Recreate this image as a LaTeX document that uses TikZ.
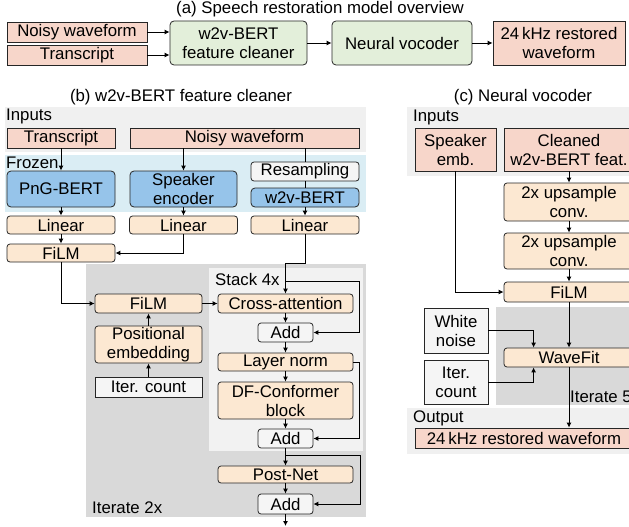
\documentclass[tikz,border=0pt]{standalone}
\usepackage{fontspec}
\setmainfont{Liberation Sans}
\usetikzlibrary{arrows.meta, positioning, calc}

\definecolor{salmon}{RGB}{247,214,202}
\definecolor{leaf}{RGB}{227,239,218}
\definecolor{cream}{RGB}{252,232,210}
\definecolor{frozenblue}{RGB}{150,196,234}
\definecolor{frozenband}{RGB}{218,237,244}
\definecolor{inputband}{RGB}{240,240,240}
\definecolor{iterband}{RGB}{217,217,217}
\definecolor{stackband}{RGB}{242,242,242}
\definecolor{addgray}{RGB}{245,245,245}

\tikzset{
    box/.style={draw=black!85, line width=0.8pt, inner sep=0pt, align=center,
        font=\fontsize{16.8}{19}\selectfont},
    dims/.style 2 args={minimum width=#1pt, minimum height=#2pt},
    inbox/.style={box, fill=salmon},
    gbox/.style={box, fill=leaf, rounded corners=4pt},
    bbox/.style={box, fill=frozenblue, rounded corners=4pt},
    obox/.style={box, fill=cream, rounded corners=3pt},
    wbox/.style={box, fill=addgray, rounded corners=3pt},
    sbox/.style={box, fill=addgray},
    tag/.style={inner sep=1pt, font=\fontsize{16.8}{19}\selectfont},
    ln/.style={line width=0.9pt},
    arr/.style={ln, -{Latex[length=5pt,width=5pt]}},
}

\begin{document}
\begin{tikzpicture}[x=1pt, y=-1pt]

    \useasboundingbox (0,0) rectangle (629,527);

    % (a)
    \node[tag] (ttlA) at (320,9) {(a) Speech restoration model overview};
    \node[inbox, dims={140}{20}] (aNoisy) at (77,32) {Noisy waveform};
    \node[inbox, dims={140}{20}] (aTrans) at (77,55) {Transcript};
    \node[gbox, dims={137}{44}] (aClean) at (238.5,43) {w2v-BERT\\feature cleaner};
    \node[gbox, dims={140}{44}] (aVoc) at (402,43) {Neural vocoder};
    \node[inbox, dims={132}{44}] (aOut) at (559,43) {24\,kHz restored\\waveform};

    \draw[arr] (aNoisy.east) -- (aNoisy.east -| aClean.west);
    \draw[arr] (aTrans.east) -- (aTrans.east -| aClean.west);
    \draw[arr] (aClean) -- (aVoc);
    \draw[arr] (aVoc) -- (aOut);

    % (b)
    \fill[inputband] (5,107) rectangle (366,152);
    \fill[frozenband] (5,155) rectangle (366,212);
    \fill[iterband] (86,264) rectangle (366,517);
    \fill[stackband] (209,268) rectangle (363,451);

    \node[tag] (ttlB) at (181,97) {(b) w2v-BERT feature cleaner};
    \node[tag, anchor=west] (inB) at (5,116) {Inputs};
    \node[tag, anchor=west] (frzB) at (5,163) {Frozen};
    \node[tag, anchor=west] (stkB) at (214,279) {Stack 4x};
    \node[tag, anchor=west] (itB) at (91,508) {Iterate 2x};

    \node[inbox, dims={108}{20}] (bTrans) at (61,138) {Transcript};
    \node[inbox, dims={229}{20}] (bNoisy) at (244.5,138) {Noisy waveform};
    \node[bbox, dims={108}{36}] (bPng) at (61,189) {PnG-BERT};
    \node[bbox, dims={107}{36}] (bSpk) at (183.5,189) {Speaker\\encoder};
    \node[wbox, dims={108}{19}] (bResamp) at (305,171.5) {Resampling};
    \node[bbox, dims={108}{19}] (bW2v) at (305,197.5) {w2v-BERT};
    \foreach \n/\x in {1/61, 2/183.5, 3/305}
        \node[obox, dims={108}{18}] (bLin\n) at (\x,225) {Linear};
    \node[obox, dims={108}{18}] (bFilmA) at (61,253) {FiLM};

    \node[obox, dims={107}{19}] (bFilmB) at (148.5,303.5) {FiLM};
    \node[obox, dims={107}{37}] (bPos) at (148.5,344.5) {Positional\\embedding};
    \node[sbox, dims={107}{20}] (bIter) at (148.5,387) {Iter. count};

    \node[obox, dims={135}{19}] (bCross) at (285.5,303.5) {Cross-attention};
    \node[wbox, dims={55}{19}] (bAddA) at (285.5,332.5) {Add};
    \node[obox, dims={135}{18}] (bNorm) at (285.5,362) {Layer norm};
    \node[obox, dims={135}{37}] (bConf) at (285.5,400.5) {DF-Conformer\\block};
    \node[wbox, dims={55}{19}] (bAddB) at (285.5,438.5) {Add};
    \node[obox, dims={135}{17}] (bPost) at (285.5,474.5) {Post-Net};
    \node[wbox, dims={55}{20}] (bAddC) at (285.5,504) {Add};

    \coordinate (bTurn) at (285.5,263);
    \coordinate (rA) at (285.5,281);
    \coordinate (rC) at (285.5,455);
    \coordinate (bEnd) at (285.5,526);

    \draw[arr] (bTrans) -- (bPng);
    \draw[arr] (bSpk.north |- bNoisy.south) -- (bSpk.north);
    \draw[ln] (bResamp.north |- bNoisy.south) -- (bResamp.north);
    \draw[ln] (bResamp) -- (bW2v);
    \foreach \a/\b in {bPng/bLin1, bSpk/bLin2, bW2v/bLin3, bLin1/bFilmA}
        \draw[arr] (\a) -- (\b);
    \draw[arr] (bLin2.south) |- (bFilmA.east);
    \draw[arr] (bLin3.south) |- (bTurn) -- (bCross.north);
    \draw[arr] (bFilmA.south) |- (bFilmB.west);
    \draw[arr] (bIter) -- (bPos);
    \draw[arr] (bPos) -- (bFilmB);
    \draw[arr] (bFilmB) -- (bCross);
    \foreach \a/\b in {bCross/bAddA, bAddA/bNorm, bNorm/bConf, bConf/bAddB, bAddB/bPost, bPost/bAddC}
        \draw[arr] (\a) -- (\b);
    \draw[arr] (bAddC) -- (bEnd);
    \draw[arr] (rA) -- ++(73.5,0) |- (bAddA.east);
    \draw[arr] (bNorm.east) -- ++(6,0) |- (bAddB.east);
    \draw[arr] (rC) -- ++(74.5,0) |- (bAddC.east);

    % (c)
    \fill[inputband] (407,107) rectangle (640,176);
    \fill[iterband] (496,307) rectangle (640,405);
    \fill[inputband] (407,408) rectangle (640,454);

    \node[tag] (ttlC) at (523,97) {(c) Neural vocoder};
    \node[tag, anchor=west] (inC) at (412,117) {Inputs};
    \node[tag, anchor=west] (itC) at (569,397) {Iterate 5x};
    \node[tag, anchor=west] (outC) at (412,418) {Output};

    \node[inbox, dims={81}{43}] (cSpk) at (455.5,149.5) {Speaker\\emb.};
    \node[inbox, dims={130}{43}] (cFeat) at (569,149.5) {Cleaned\\w2v-BERT feat.};
    \node[obox, dims={130}{38}] (cUpA) at (569,202) {2x upsample\\conv.};
    \node[obox, dims={130}{36}] (cUpB) at (569,251) {2x upsample\\conv.};
    \node[obox, dims={130}{20}] (cFilm) at (569,292) {FiLM};
    \node[obox, dims={130}{19}] (cWave) at (569,357.5) {WaveFit};
    \node[sbox, dims={64}{45}] (cNoise) at (456,330.5) {White\\noise};
    \node[sbox, dims={64}{44}] (cIter) at (456,382) {Iter.\\count};
    \node[inbox, dims={218}{20}] (cOut) at (524,438) {24\,kHz restored waveform};

    \foreach \a/\b in {cFeat/cUpA, cUpA/cUpB, cUpB/cFilm, cFilm/cWave}
        \draw[arr] (\a) -- (\b);
    \draw[arr] (cSpk.south) |- (cFilm.west);
    \draw[arr] (cNoise.east) -| ([xshift=30pt]cWave.north west);
    \draw[arr] (cIter.east) -| ([xshift=30pt]cWave.south west);
    \draw[arr] (cWave.south) -- (cWave.south |- cOut.north);

\end{tikzpicture}
\end{document}
